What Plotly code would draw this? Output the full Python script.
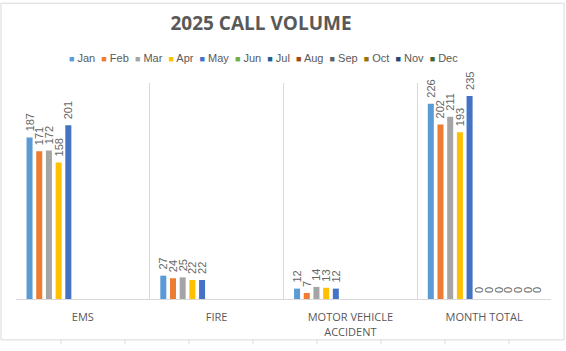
import plotly.graph_objects as go

# ---------------- data ----------------
months = ["Jan", "Feb", "Mar", "Apr", "May", "Jun", "Jul", "Aug", "Sep", "Oct", "Nov", "Dec"]
categories = ["EMS", "FIRE", "MOTOR VEHICLE<br>ACCIDENT", "MONTH TOTAL"]
ems = [187, 171, 172, 158, 201, None, None, None, None, None, None, None]
fire = [27, 24, 25, 22, 22, None, None, None, None, None, None, None]
mva = [12, 7, 14, 13, 12, None, None, None, None, None, None, None]
month_total = [226, 202, 211, 193, 235, 0, 0, 0, 0, 0, 0, 0]
colors = ["#5B9BD5", "#ED7D31", "#A5A5A5", "#FFC000", "#4472C4", "#70AD47",
          "#255E91", "#9E480E", "#636363", "#997300", "#264478", "#43682B"]

# ---------------- layout helpers (pixel -> paper) ----------------
W, H = 566, 351
PL, PR, PT, PB = 16, 551, 83, 305


def px(x):
    return (x - PL) / (PR - PL)


def py(y):
    return (PB - y) / (PB - PT)


fig = go.Figure()
for i, m in enumerate(months):
    vals = [ems[i], fire[i], mva[i], month_total[i]]
    fig.add_trace(go.Bar(
        name=m,
        x=categories,
        y=vals,
        marker=dict(color=colors[i], line=dict(width=0)),
        text=["" if v is None else "\u00a0" + str(v) for v in vals],
        textposition="outside",
        textangle=-90,
        constraintext="none",
        cliponaxis=False,
        textfont=dict(family="Liberation Sans, Arial, sans-serif", size=11, color="#666666"),
        showlegend=False,
    ))

# legend as a single text line with coloured squares
legend_parts = []
for m, c in zip(months, colors):
    legend_parts.append(
        f"<span style='color:{c};font-size:9px'>■</span> {m}"
    )
legend_text = "\u00a0\u00a0".join(legend_parts)

fig.update_layout(
    width=W, height=H,
    margin=dict(l=PL, r=W - PR, t=PT, b=H - PB, pad=0),
    paper_bgcolor="white",
    plot_bgcolor="white",
    barmode="group",
    bargap=0.13,
    bargroupgap=0.38,
    title=dict(
        text="<b>2025 CALL VOLUME</b>",
        x=261 / W, xanchor="center",
        y=1 - 23 / H, yanchor="middle",
        xref="container", yref="container",
        font=dict(family="Open Sans, sans-serif", size=19, color="#595959"),
    ),
    xaxis=dict(
        type="category",
        showgrid=True,
        gridcolor="#D9D9D9",
        gridwidth=1,
        tickson="boundaries",
        ticks="",
        showline=True,
        linecolor="#D9D9D9",
        linewidth=1,
        ticklabelstandoff=8,
        tickfont=dict(family="Open Sans, sans-serif", size=11, color="#595959"),
        range=[-0.5, 3.5],
        fixedrange=True,
    ),
    yaxis=dict(
        range=[0, 250],
        visible=False,
        showgrid=False,
        zeroline=False,
        fixedrange=True,
    ),
    annotations=[dict(
        text=legend_text,
        xref="paper", yref="paper",
        x=px(263.5), y=py(57),
        xanchor="center", yanchor="middle",
        showarrow=False,
        font=dict(family="Liberation Sans, Arial, sans-serif", size=11, color="#595959"),
    )],
    shapes=[
        # chart border
        dict(type="rect", xref="paper", yref="paper",
             x0=px(1), x1=px(564), y0=py(347), y1=py(1),
             line=dict(color="#D9D9D9", width=1), fillcolor="rgba(0,0,0,0)", layer="below"),
    ] + [
        # spreadsheet cell borders peeking below the chart
        dict(type="line", xref="paper", yref="paper",
             x0=px(xx), x1=px(xx), y0=py(351), y1=py(347),
             line=dict(color="#DADADA", width=1))
        for xx in range(61, 566, 64)
    ],
)

fig.write_html("out.html")
